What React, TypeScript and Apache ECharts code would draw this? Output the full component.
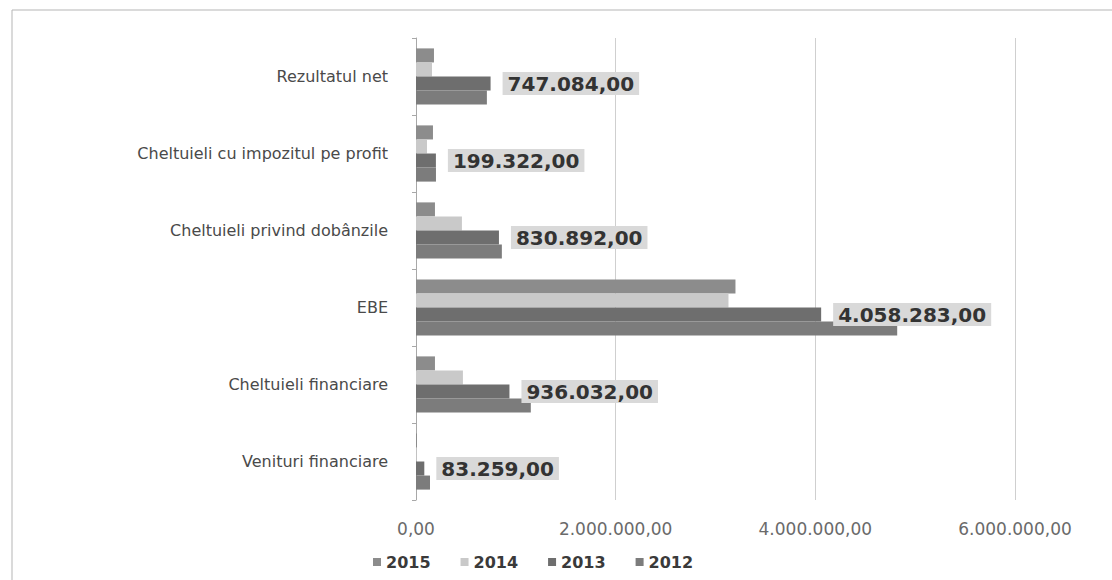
import React, { useEffect, useRef } from "react";
import * as echarts from "echarts";

const categories = [
  "Venituri financiare",
  "Cheltuieli financiare",
  "EBE",
  "Cheltuieli privind dobânzile",
  "Cheltuieli cu impozitul pe profit",
  "Rezultatul net",
];

const v2015 = [10000, 190000, 3200000, 190000, 170000, 180000];
const v2014 = [8000, 470000, 3130000, 460000, 110000, 160000];
const v2013 = [83259, 936032, 4058283, 830892, 199322, 747084];
const v2012 = [140000, 1150000, 4820000, 860000, 200000, 710000];

const legendOrder = ["2015", "2014", "2013", "2012"];
const axisTicks = [0, 2000000, 4000000, 6000000];

function fmtRo(n: number): string {
  const fixed = Math.abs(n).toFixed(2);
  const [intPart, dec] = fixed.split(".");
  const withDots = intPart.replace(/\B(?=(\d{3})+(?!\d))/g, ".");
  return (n < 0 ? "-" : "") + withDots + "," + dec;
}

export default function App() {
  const ref = useRef<HTMLDivElement>(null);
  useEffect(() => {
    if (!ref.current) return;
    const chart = echarts.init(ref.current, null, { renderer: "svg" });
    const common = {
      type: "bar" as const,
      barGap: "0%",
      barCategoryGap: "27%",
    };
    chart.setOption({
      animation: false,
      backgroundColor: "#ffffff",
      graphic: [
        {
          type: "rect",
          shape: { x: 12, y: 10, width: 1130, height: 620 },
          style: { fill: "none", stroke: "#b5b5b5", lineWidth: 1 },
          silent: true,
        },
      ],
      grid: { left: 416, right: 97, top: 38, bottom: 80, containLabel: false },
      legend: {
        data: legendOrder,
        left: 368,
        top: 549,
        itemWidth: 8,
        itemHeight: 8,
        itemGap: 30,
        icon: "rect",
        textStyle: {
          fontFamily: "DejaVu Sans",
          fontWeight: "bold",
          fontSize: 16,
          color: "#3a3a3a",
        },
      },
      xAxis: {
        type: "value",
        min: axisTicks[0],
        max: axisTicks[axisTicks.length - 1],
        interval: axisTicks[1] - axisTicks[0],
        axisLine: { show: false },
        axisTick: { show: false },
        splitLine: { show: true, lineStyle: { color: "#cfcfcf", width: 1 } },
        axisLabel: {
          formatter: (v: number) => fmtRo(v),
          fontFamily: "DejaVu Sans",
          fontSize: 17,
          color: "#6a6a6a",
          margin: 20,
        },
      },
      yAxis: {
        type: "category",
        data: categories,
        axisLine: { show: true, lineStyle: { color: "#a8a8a8" } },
        axisTick: { show: true, length: 4, lineStyle: { color: "#a8a8a8" } },
        axisLabel: {
          fontFamily: "DejaVu Sans",
          fontSize: 16,
          color: "#4a4a4a",
          margin: 28,
        },
      },
      series: [
        { ...common, name: "2015", data: v2015, itemStyle: { color: "#8c8c8c" } },
        { ...common, name: "2014", data: v2014, itemStyle: { color: "#c9c9c9" } },
        {
          ...common,
          name: "2013",
          data: v2013,
          itemStyle: { color: "#6e6e6e" },
          label: {
            show: true,
            position: "right",
            distance: 12,
            formatter: (p: any) => fmtRo(p.value),
            fontFamily: "DejaVu Sans",
            fontWeight: "bold",
            fontSize: 20,
            color: "#333333",
            backgroundColor: "#d9d9d9",
            padding: [2, 5, 1, 5],
          },
        },
        { ...common, name: "2012", data: v2012, itemStyle: { color: "#7c7c7c" } },
      ],
    });
    return () => chart.dispose();
  }, []);
  return (
    <div
      ref={ref}
      style={{ position: "absolute", left: 0, top: 0, width: 1112, height: 580 }}
    />
  );
}
